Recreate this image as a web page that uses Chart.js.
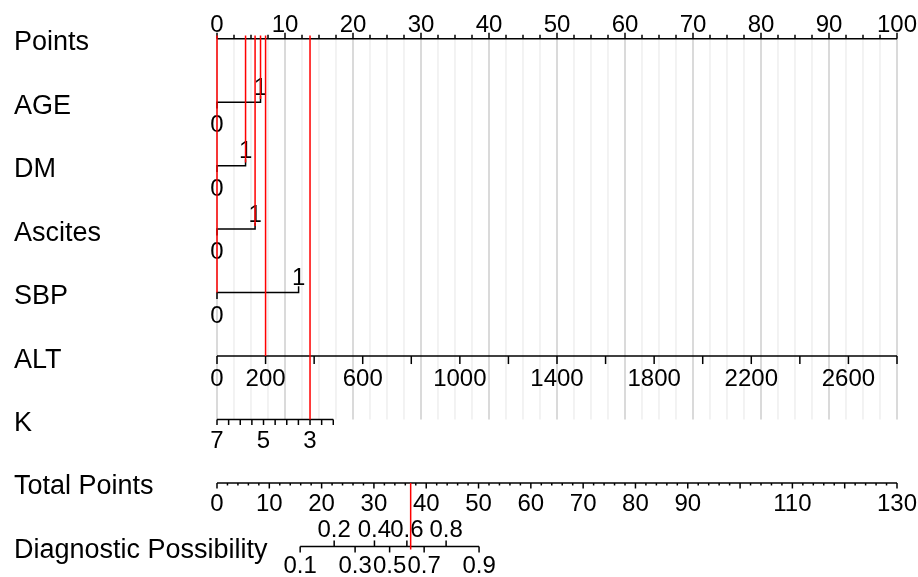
<!DOCTYPE html>
<html>
<head>
<meta charset="utf-8">
<script src="https://cdn.jsdelivr.net/npm/chart.js@4.4.1/dist/chart.umd.min.js"></script>
<style>
  html, body { margin: 0; padding: 0; background: #fff; }
  #wrap { width: 918px; height: 577px; }
</style>
</head>
<body>
<div id="wrap"><canvas id="myChart" width="918" height="577"></canvas></div>
<script>
// Row names of the nomogram (top to bottom)
var rowNames = ['Points', 'AGE', 'DM', 'Ascites', 'SBP', 'ALT', 'K', 'Total Points', 'Diagnostic Possibility'];

// Points scale
var pointLabels = [0, 10, 20, 30, 40, 50, 60, 70, 80, 90, 100];

// Binary predictors: points given to level 1 (level 0 = 0 points)
var binaryVars = ['AGE', 'DM', 'Ascites', 'SBP'];
var binaryPoints = [6.4, 4.2, 5.6, 12.0];

// ALT: 0 -> 0 points, 2800 -> 100 points
var altTicks = [0, 200, 400, 600, 800, 1000, 1200, 1400, 1600, 1800, 2000, 2200, 2400, 2600, 2800];
var altLabels = [0, 200, 600, 1000, 1400, 1800, 2200, 2600];
var altMax = 2800;

// K: 7 -> 0 points, 2 -> 17.1 points
var kTicks = [7, 6.5, 6, 5.5, 5, 4.5, 4, 3.5, 3, 2.5, 2];
var kLabels = [7, 5, 3];
var kStart = 7, kEnd = 2, kEndPoints = 17.1;

// Total points (130 total = full width)
var totalLabels = [0, 10, 20, 30, 40, 50, 60, 70, 80, 90, 110, 130];
var totalMax = 130;

// Diagnostic possibility and the total points where each one sits
var probValues = [0.1, 0.2, 0.3, 0.4, 0.5, 0.6, 0.7, 0.8, 0.9];
var probTotal = [15.9, 22.4, 26.4, 30.1, 33.0, 36.3, 39.6, 43.8, 50.1];

// The patient marked in red
var patient = { AGE: 1, DM: 1, Ascites: 1, SBP: 0, ALT: 200, K: 3 };

function altToPoints(v) { return v / altMax * 100; }
function kToPoints(v) { return (kStart - v) / (kStart - kEnd) * kEndPoints; }
function totalToPoints(t) { return t / totalMax * 100; }

var NUM_FONT = '24px "Liberation Sans", Arial, sans-serif';
var LAB_FONT = '27px "Liberation Sans", Arial, sans-serif';

// datasets: brackets for binary variables
var datasets = [];
binaryVars.forEach(function (name, i) {
  var r = i + 1, p = binaryPoints[i];
  datasets.push({
    data: [{ x: 0, y: r + 0.1 }, { x: 0, y: r }, { x: p, y: r }, { x: p, y: r - 0.1 }],
    borderColor: '#000', borderWidth: 1.5, order: 2, clip: false
  });
});

// red lines for the patient
var patientTotal = 0;
binaryVars.forEach(function (name, i) {
  var r = i + 1;
  var p = patient[name] ? binaryPoints[i] : 0;
  patientTotal += p;
  datasets.push({
    data: [{ x: p, y: -0.05 }, { x: p, y: patient[name] ? r - 0.05 : r }],
    borderColor: '#ff0000', borderWidth: 1.5, order: 1, clip: false
  });
});
var altP = altToPoints(patient.ALT), kP = kToPoints(patient.K);
patientTotal += altP + kP;
datasets.push({ data: [{ x: altP, y: -0.05 }, { x: altP, y: 5 }], borderColor: '#ff0000', borderWidth: 1.5, order: 1, clip: false });
datasets.push({ data: [{ x: kP, y: -0.05 }, { x: kP, y: 6 }], borderColor: '#ff0000', borderWidth: 1.5, order: 1, clip: false });
var totP = totalToPoints(patientTotal);
datasets.push({ data: [{ x: totP, y: 7 }, { x: totP, y: 8.05 }], borderColor: '#ff0000', borderWidth: 1.5, order: 1, clip: false });

// draws grid, axes and texts
var nomoPlugin = {
  id: 'nomo',
  beforeDatasetsDraw: function (chart) {
    var ctx = chart.ctx, xs = chart.scales.x, ys = chart.scales.y;
    function px(p) { return xs.getPixelForValue(p); }
    function py(r) { return ys.getPixelForValue(r); }
    function seg(x1, y1, x2, y2) { ctx.beginPath(); ctx.moveTo(x1, y1); ctx.lineTo(x2, y2); ctx.stroke(); }
    function txt(s, x, y, align) { ctx.textAlign = align || 'center'; ctx.fillText(String(s), x, y); }

    ctx.save();
    // grid lines
    for (var g = 0; g <= 100; g += 2.5) {
      ctx.strokeStyle = (g % 10 === 0) ? '#c6c6c6' : '#ececec';
      ctx.lineWidth = 1.3;
      seg(px(g), py(0), px(g), py(6));
    }

    ctx.strokeStyle = '#000';
    ctx.fillStyle = '#000';
    ctx.lineWidth = 1.5;
    ctx.textBaseline = 'alphabetic';

    // row labels
    ctx.font = LAB_FONT;
    rowNames.forEach(function (n, i) { txt(n, 14, py(i) + 11.5, 'left'); });

    ctx.font = NUM_FONT;
    // Points axis
    var y0 = py(0);
    seg(px(0), y0, px(100), y0);
    for (var t = 0; t <= 100; t += 2.5) seg(px(t), y0, px(t), y0 - (t % 10 === 0 ? 6 : 4));
    pointLabels.forEach(function (v) { txt(v, px(v), y0 - 7); });

    // binary labels
    binaryVars.forEach(function (name, i) {
      var yr = py(i + 1);
      txt(1, px(binaryPoints[i]), yr - 7.5);
      txt(0, px(0), yr + 30);
    });

    // ALT axis
    var y5 = py(5);
    seg(px(0), y5, px(altToPoints(altMax)), y5);
    altTicks.forEach(function (v) { seg(px(altToPoints(v)), y5, px(altToPoints(v)), y5 + 8); });
    altLabels.forEach(function (v) { txt(v, px(altToPoints(v)), y5 + 30); });

    // K axis
    var y6 = py(6);
    seg(px(kToPoints(kStart)), y6, px(kToPoints(kEnd)), y6);
    kTicks.forEach(function (v) { seg(px(kToPoints(v)), y6, px(kToPoints(v)), y6 + 5.5); });
    kLabels.forEach(function (v) { txt(v, px(kToPoints(v)), y6 + 28.5); });

    // Total points axis
    var y7 = py(7);
    seg(px(0), y7, px(100), y7);
    for (var tt = 0; tt <= totalMax; tt += 2) {
      seg(px(totalToPoints(tt)), y7, px(totalToPoints(tt)), y7 + (tt % 10 === 0 ? 5.5 : 2.5));
    }
    totalLabels.forEach(function (v) { txt(v, px(totalToPoints(v)), y7 + 28); });

    // Diagnostic possibility axis
    var y8 = py(8);
    seg(px(totalToPoints(probTotal[0])), y8, px(totalToPoints(probTotal[probTotal.length - 1])), y8);
    probValues.forEach(function (v, i) {
      var x = px(totalToPoints(probTotal[i]));
      if (i % 2 === 0) {
        seg(x, y8, x, y8 + 6);
        txt(v.toFixed(1), x, y8 + 27);
      } else {
        seg(x, y8, x, y8 - 6);
        txt(v.toFixed(1), x, y8 - 9);
      }
    });
    ctx.restore();
  }
};

var ctx = document.getElementById('myChart').getContext('2d');
var myChart = new Chart(ctx, {
  type: 'scatter',
  data: { datasets: datasets },
  options: {
    responsive: false,
    devicePixelRatio: 1,
    animation: false,
    events: [],
    showLine: true,
    elements: { point: { radius: 0 }, line: { tension: 0, fill: false } },
    layout: { padding: { left: 217, right: 21, top: 7, bottom: 2 } },
    scales: {
      x: { type: 'linear', min: 0, max: 100, display: false },
      y: { type: 'linear', min: -0.5, max: 8.45, reverse: true, display: false }
    },
    plugins: { legend: { display: false }, tooltip: { enabled: false } }
  },
  plugins: [nomoPlugin]
});
</script>
</body>
</html>
